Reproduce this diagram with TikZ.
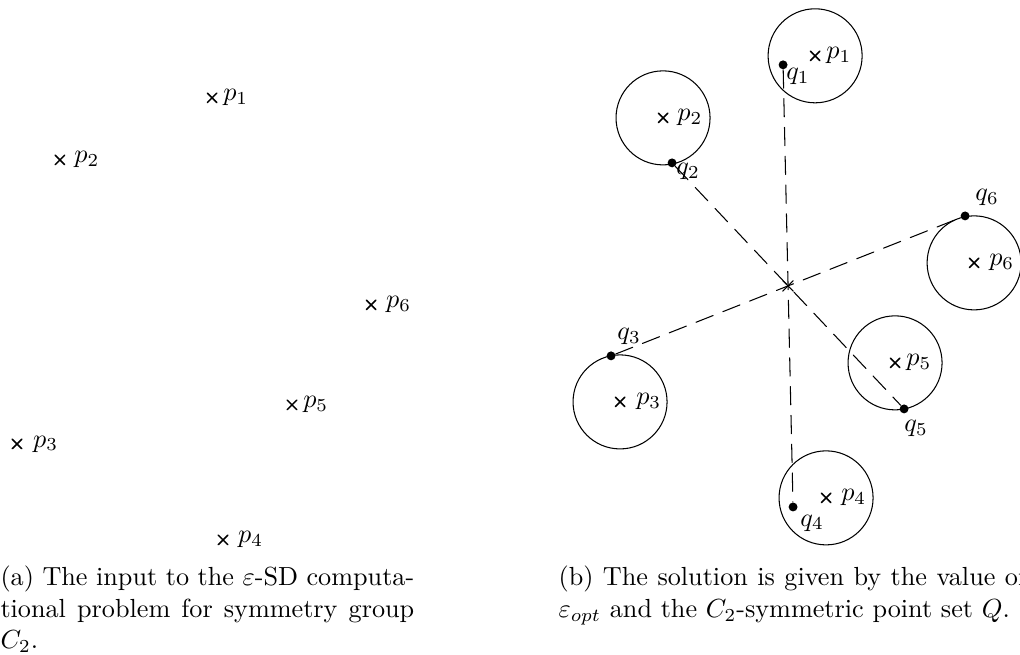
\documentclass[tikz,border=0pt]{standalone}
\usetikzlibrary{shapes.misc,calc}
\begin{document}
\begin{tikzpicture}[line join=round, line cap=round]
	\tikzset{
		pmark/.style={draw, cross out, minimum size=3pt, inner sep=0pt, line width=0.6pt},
		omark/.style={draw, cross out, minimum size=3.6pt, inner sep=0pt, line width=0.4pt},
		qdot/.style={circle, fill, inner sep=0pt, minimum size=3.4pt},
		link/.style={dash pattern=on 7pt off 4pt},
		caption/.style={anchor=north west, inner sep=0pt, align=justify, font=\fontsize{10}{12}\selectfont}
	}
	\useasboundingbox (0,0) rectangle (13.69,8.79);
	% (a) the input points
	\foreach \n/\x/\y/\d in {1/2.846/7.477/1.3pt, 2/0.805/6.644/2.5pt, 3/0.228/2.832/3.2pt,
		4/2.993/1.544/2.8pt, 5/3.919/3.356/1.3pt, 6/4.980/4.698/2.8pt}
		\node[pmark, label={[inner sep=1pt, label distance=\d]right:$p_\n$}] (a\n) at (\x,\y) {};
	% (b) the solution
	\begin{scope}[xshift=8.094cm, yshift=0.564cm]
		\foreach \n/\x/\y/\d in {1/2.846/7.477/1.3pt, 2/0.805/6.644/2.5pt, 3/0.228/2.832/3.2pt,
			4/2.993/1.544/2.8pt, 5/3.919/3.356/1.3pt, 6/4.980/4.698/2.8pt}
		{
			\node[pmark, label={[inner sep=1pt, label distance=\d]right:$p_\n$}] (b\n) at (\x,\y) {};
			\draw (b\n) circle (0.631);
		}
		\node[omark] (o) at (2.483,4.389) {};
		\node[qdot] (q1) at (2.416,7.356) {};
		\node[qdot] (q2) at (0.926,6.040) {};
		\node[qdot] (q3) at (0.107,3.450) {};
		\node[qdot] (q4) at ($(q1)!2!(o)$) {};
		\node[qdot] (q5) at ($(q2)!2!(o)$) {};
		\node[qdot] (q6) at ($(q3)!2!(o)$) {};
		\draw[link] (q1) -- (q4);
		\draw[link] (q2) -- (q5);
		\draw[link] (q3) -- (q6);
		\foreach \n/\dx/\dy in {1/5.7pt/-4.6pt, 2/6.1pt/-3.4pt, 3/6.9pt/7.3pt,
			4/7.3pt/-6.1pt, 5/4.6pt/-7.3pt, 6/8.4pt/6.9pt}
			\node[inner sep=0pt] (lq\n) at ([shift={(\dx,\dy)}]q\n) {$q_\n$};
	\end{scope}
	% captions
	\node[caption, text width=158pt] (capa) at (0,1.20)
		{(a) The input to the $\varepsilon$-SD computa\-tional problem for symmetry group $C_2$.};
	\node[caption, text width=178.5pt] (capb) at (7.49,1.20)
		{(b) The solution is given by the value of $\varepsilon_{opt}$ and the $C_2$-symmetric point set $Q$.};
\end{tikzpicture}
\end{document}
